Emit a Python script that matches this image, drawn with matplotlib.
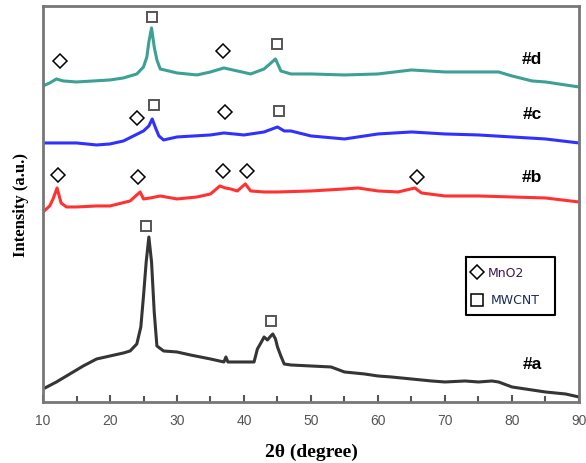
import matplotlib.pyplot as plt

# 2theta positions and intensities (a.u.)
x_a = [10, 12, 14, 16, 18, 20, 22, 23, 24, 24.6, 25, 25.4, 25.8, 26.2, 26.6, 27, 28, 30, 32, 35, 37, 37.3, 37.6,
       40, 41.5, 42, 42.6, 43, 43.5, 44, 44.3, 44.7, 45, 45.5, 46, 47, 50, 53, 55, 58, 60, 62, 65, 68, 70, 73,
       75, 77, 78, 80, 82, 85, 88, 90]
y_a = [13, 20, 28, 36, 43, 46, 49, 51, 58, 75, 106, 140, 165, 140, 90, 56, 51, 50, 47, 43, 40, 45, 40,
       40, 40, 53, 60, 65, 62, 66, 68, 63, 55, 46, 38, 37, 36, 35, 30, 28, 26, 25, 23, 21, 20, 21,
       20, 21, 20, 15, 13, 10, 8, 5]

x_b = [10, 11, 11.5, 12.1, 12.7, 13.5, 15, 18, 20, 23, 24.5, 25, 26, 27.5, 30, 33, 35, 36.4, 37.2, 38, 39,
       40.2, 41, 43, 45, 50, 55, 57, 60, 63, 65.5, 66.5, 70, 75, 80, 85, 90]
y_b = [190, 196, 203, 214, 199, 195, 195, 196, 196, 201, 210, 203, 204, 206, 203, 205, 208, 216, 214, 213, 211,
       218, 211, 210, 210, 211, 213, 214, 211, 210, 214, 209, 206, 206, 205, 204, 200]

x_c = [10, 15, 18, 20, 22, 23.5, 25, 25.8, 26.3, 26.8, 27.3, 28, 30, 35, 37, 40, 43, 45, 46, 47, 50, 55, 60,
       65, 70, 75, 80, 85, 90]
y_c = [259, 259, 257, 258, 261, 266, 271, 276, 283, 274, 266, 262, 265, 267, 269, 267, 270, 275, 271, 271,
       266, 263, 268, 270, 268, 267, 265, 263, 259]

x_d = [10, 11, 12, 13, 15, 20, 22, 24, 25, 25.5, 25.8, 26.2, 26.6, 27, 27.5, 30, 33, 35, 37, 39, 41, 43, 44.7,
       45.5, 47, 50, 55, 60, 65, 70, 75, 78, 80, 83, 85, 90]
y_d = [316, 319, 323, 321, 320, 322, 324, 328, 335, 345, 360, 374, 355, 342, 333, 329, 327, 330, 334, 331,
       328, 333, 343, 331, 328, 328, 327, 328, 332, 330, 330, 330, 326, 321, 320, 315]

traces = [(x_a, y_a, '#111111'), (x_b, y_b, '#ff0d0d'), (x_c, y_c, '#0d0dff'), (x_d, y_d, '#1a9082')]

# phase marks: MnO2 (diamond) and MWCNT (square)
mno2_x = [12.5, 36.8, 24.0, 37.2, 12.3, 24.2, 36.8, 40.5, 65.8]
mno2_y = [341, 351, 284, 290, 227, 225, 231, 231, 225]
cnt_x = [26.2, 45.0, 26.5, 45.2, 25.3, 44.0]
cnt_y = [385, 358, 297, 291, 176, 81]

labels = ['#a', '#b', '#c', '#d']
label_y = [38, 225, 288, 343]

fig = plt.figure(figsize=(5.86, 4.64), dpi=100)
ax = fig.add_axes([0.0734, 0.1315, 0.9146, 0.8535])

for xs, ys, col in traces:
    ax.plot(xs, ys, color=col, lw=2.2, alpha=0.85)

ax.plot(mno2_x, mno2_y, ls='none', marker='D', ms=7, mfc='white', mec='black', mew=1.1)
ax.plot(cnt_x, cnt_y, ls='none', marker='s', ms=7, mfc='white', mec='#555555', mew=1.4)

for lab, yy in zip(labels, label_y):
    ax.text(83, yy, lab, fontsize=12.5, fontweight='bold', ha='center', va='center', family='Liberation Sans')

# legend box
ax.plot([0.79, 0.955, 0.955, 0.79, 0.79], [0.365, 0.365, 0.22, 0.22, 0.365], transform=ax.transAxes,
        color='black', lw=1.5, clip_on=False)
ax.plot([0.81], [0.328], transform=ax.transAxes, marker='D', ms=7, mfc='white', mec='black', mew=1.1)
ax.plot([0.81], [0.258], transform=ax.transAxes, marker='s', ms=8, mfc='white', mec='black', mew=1.1)
ax.text(0.83, 0.328, 'MnO2', transform=ax.transAxes, fontsize=9, color='#3a1a4a', va='center')
ax.text(0.835, 0.258, 'MWCNT', transform=ax.transAxes, fontsize=9, color='#1a2a5a', va='center')

ax.set_xlim(10, 90)
ax.set_ylim(0, 396)
ax.set_xticks(range(10, 91, 10))
ax.set_xticks(range(15, 90, 10), minor=True)
ax.set_yticks([])
ax.tick_params(axis='x', direction='in', length=5, width=1.5, colors='#555555', labelsize=10,
               labelcolor='#555555', top=False, pad=8)
ax.tick_params(axis='x', which='minor', direction='in', length=4, width=1.5, colors='#555555')
for lab in ax.get_xticklabels():
    lab.set_family('Liberation Sans')
for sp in ax.spines.values():
    sp.set_color('#777777')
    sp.set_linewidth(2)

ax.set_xlabel('2θ (degree)', fontsize=14, fontweight='bold', family='Liberation Serif', labelpad=11)
ax.set_ylabel('Intensity (a.u.)', fontsize=12, fontweight='bold', family='Liberation Serif', labelpad=10)

plt.savefig('out.png', dpi=100)
